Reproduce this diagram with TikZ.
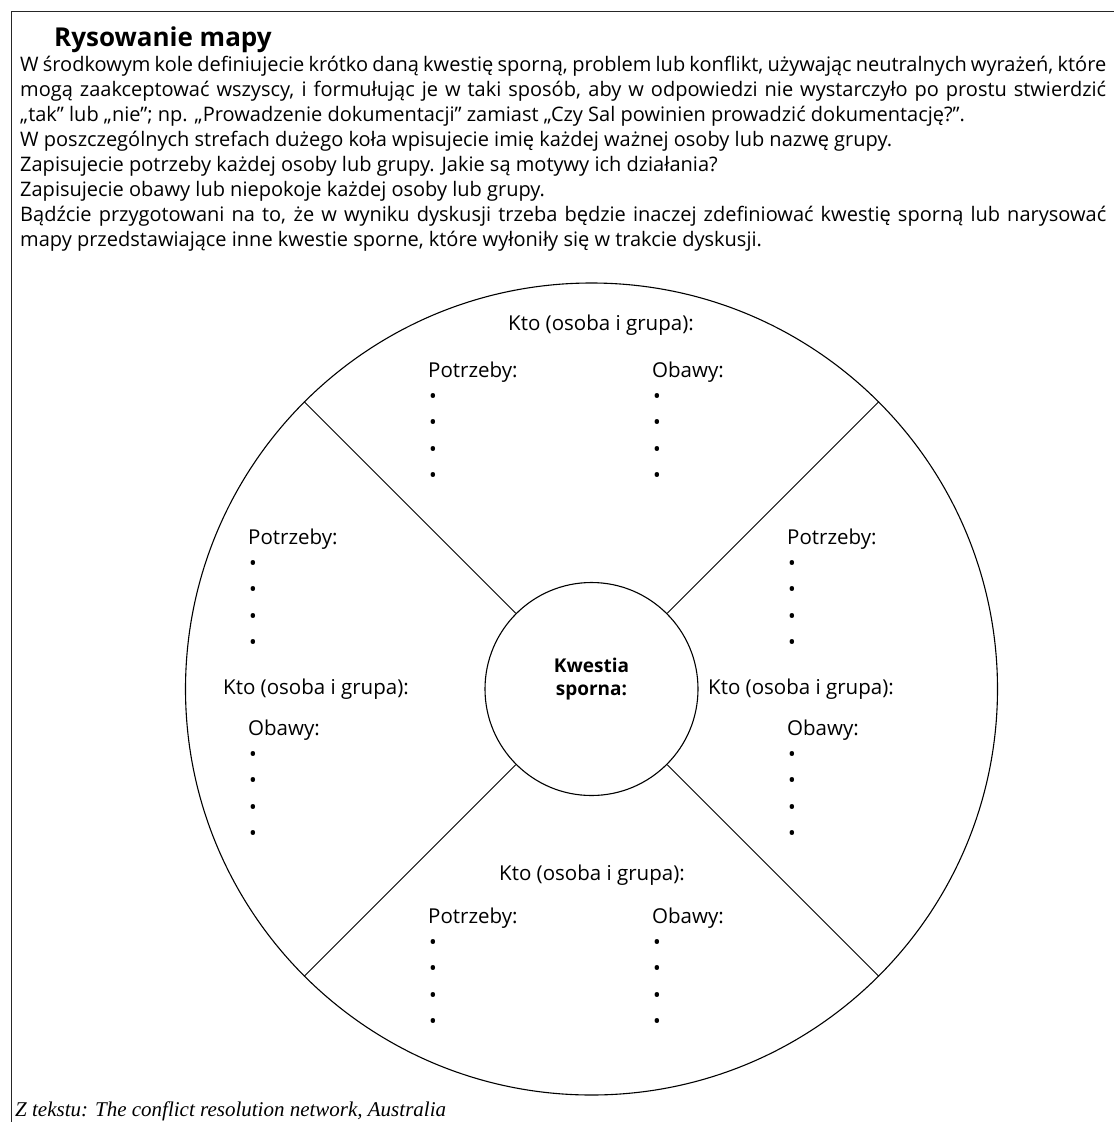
\documentclass[tikz,border=0pt]{standalone}
\usepackage{fontspec}
\setmainfont{Open Sans}
\newfontfamily\introfont{Open Sans}[WordSpace={1,1,2}]
\newfontfamily\sourcefont{Liberation Serif}
\usetikzlibrary{positioning}

\newcommand{\fourdots}{\\\hspace*{1pt}\textbullet\\\hspace*{1pt}\textbullet\\\hspace*{1pt}\textbullet\\\hspace*{1pt}\textbullet}

\begin{document}
\begin{tikzpicture}[x=1pt,y=-1pt,
  entry/.style={anchor=north west,inner sep=0pt,align=left,
                font=\fontsize{20.5}{26.3}\selectfont},
  who/.style={anchor=base west,inner sep=0pt,font=\fontsize{20.5}{26.3}\selectfont},
  rim/.style={circle,draw,line width=1.1pt,inner sep=0pt},
  spoke/.style={line width=1pt},
  frame/.style={line width=0.9pt,draw=black!85}
]
\useasboundingbox (0,0) rectangle (1114,1122);
% Frame
\draw[frame] (11.5,1122) -- (11.5,11.5) -- (1114,11.5);
% Heading and instructions
\node[anchor=base west,inner sep=0pt,font=\fontsize{26}{26}\selectfont\bfseries] (title) at (54,46) {Rysowanie mapy};
\node[anchor=north west,inner sep=0pt,text width=1086pt,align=justify,
      font=\introfont\fontsize{20}{25}\selectfont] (intro) at (20,56) {\hyphenpenalty=10000\relax
W środkowym kole definiujecie krótko daną kwestię sporną, problem lub konflikt, używając neutralnych wyrażeń, które\linebreak
mogą zaakceptować wszyscy, i formułując je w taki sposób, aby w odpowiedzi nie wystarczyło po prostu stwierdzić\linebreak
„tak” lub „nie”; np. „Prowadzenie dokumentacji” zamiast „Czy Sal powinien prowadzić dokumentację?”.\par
W poszczególnych strefach dużego koła wpisujecie imię każdej ważnej osoby lub nazwę grupy.\par
Zapisujecie potrzeby każdej osoby lub grupy. Jakie są motywy ich działania?\par
Zapisujecie obawy lub niepokoje każdej osoby lub grupy.\par
Bądźcie przygotowani na to, że w wyniku dyskusji trzeba będzie inaczej zdefiniować kwestię sporną lub narysować\linebreak
mapy przedstawiające inne kwestie sporne, które wyłoniły się w trakcie dyskusji.};
% Map circles
\node[rim,minimum size=812pt] (map) at (591.5,689) {};
\node[rim,minimum size=213pt] (issue) at (591.5,689) {};
\node[inner sep=0pt,font=\fontsize{19}{23}\selectfont\bfseries,align=center] (issueText) at (591.5,679) {Kwestia\\sporna:};
\foreach \a in {45,135,225,315}
  \draw[spoke] (issue.\a) -- (map.\a);
% Top sector
\node[who,anchor=base] (whoN) at (601,330) {Kto (osoba i grupa):};
\node[entry] (needN) at (428,361.5) {Potrzeby:\fourdots};
\node[entry] (fearN) at (652,361.5) {Obawy:\fourdots};
% Left sector
\node[entry] (needW) at (248,528.5) {Potrzeby:\fourdots};
\node[who] (whoW) at (223,694) {Kto (osoba i grupa):};
\node[entry] (fearW) at (248,719.5) {Obawy:\fourdots};
% Right sector
\node[entry] (needE) at (787,528.5) {Potrzeby:\fourdots};
\node[who] (whoE) at (708,694) {Kto (osoba i grupa):};
\node[entry] (fearE) at (787,719.5) {Obawy:\fourdots};
% Bottom sector
\node[who,anchor=base] (whoS) at (592,880) {Kto (osoba i grupa):};
\node[entry] (needS) at (428,907.5) {Potrzeby:\fourdots};
\node[entry] (fearS) at (652,907.5) {Obawy:\fourdots};
% Source
\node[anchor=base west,inner sep=0pt,font=\sourcefont\itshape\fontsize{21}{21}\selectfont] (source) at (15,1116) {Z tekstu: The conflict resolution network, Australia};
\end{tikzpicture}
\end{document}
